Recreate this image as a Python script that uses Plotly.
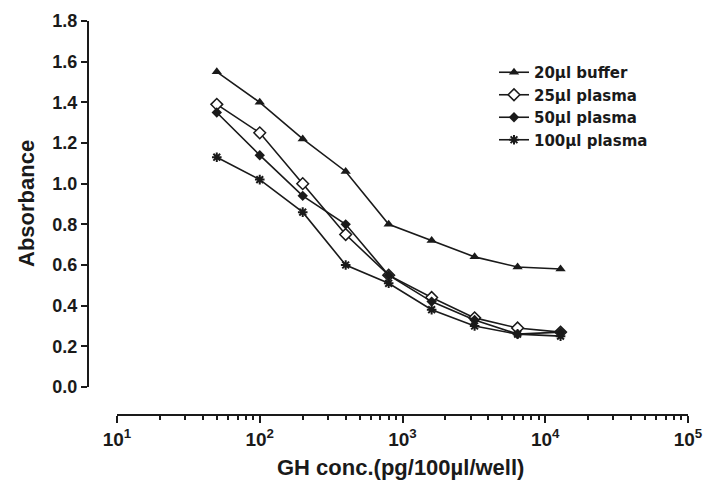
import plotly.graph_objects as go

conc = [50, 100, 200, 400, 800, 1600, 3200, 6400, 12800]
buffer_20 = [1.55, 1.40, 1.22, 1.06, 0.80, 0.72, 0.64, 0.59, 0.58]
plasma_25 = [1.39, 1.25, 1.00, 0.75, 0.55, 0.44, 0.34, 0.29, 0.27]
plasma_50 = [1.35, 1.14, 0.94, 0.80, 0.55, 0.42, 0.33, 0.26, 0.27]
plasma_100 = [1.13, 1.02, 0.86, 0.60, 0.51, 0.38, 0.30, 0.26, 0.25]

x_tickvals = [10, 100, 1000, 10000, 100000]
x_ticktext = ["10<sup>1</sup>", "10<sup>2</sup>", "10<sup>3</sup>", "10<sup>4</sup>", "10<sup>5</sup>"]

W, H = 704, 482
INK = "#1a1a1a"
FONT = "Liberation Sans"

series = [
    ("20µl buffer", buffer_20, dict(symbol="triangle-up", size=9, color=INK)),
    ("25µl plasma", plasma_25, dict(symbol="diamond", size=9, color="white", line=dict(color=INK, width=1.5))),
    ("50µl plasma", plasma_50, dict(symbol="diamond", size=8, color=INK)),
    ("100µl plasma", plasma_100, dict(symbol="asterisk-open", size=8, color=INK, line=dict(color=INK, width=2))),
]

fig = go.Figure()
for name, vals, mk in series:
    fig.add_trace(go.Scatter(x=conc, y=vals, name=name, mode="lines+markers",
                             line=dict(color=INK, width=1.6), marker=mk))

fig.update_layout(
    width=W, height=H,
    margin=dict(l=0, r=0, t=0, b=0, autoexpand=False),
    paper_bgcolor="white", plot_bgcolor="white",
    font=dict(family=FONT, color=INK, size=17, weight="bold"),
    showlegend=True,
    legend=dict(x=494 / W, y=1 - 56 / H, xanchor="left", yanchor="top",
                bgcolor="rgba(0,0,0,0)",
                font=dict(size=15, family="DejaVu Sans", weight="bold", color=INK),
                tracegroupgap=0, itemwidth=30),
    xaxis=dict(type="log", range=[1, 5], domain=[117 / W, 688 / W],
               anchor="free", position=1 - 415 / H, automargin=False,
               showline=True, linecolor=INK, linewidth=2,
               showgrid=False, zeroline=False,
               tickvals=x_tickvals, ticktext=x_ticktext,
               ticks="outside", ticklen=7, tickwidth=2, tickcolor=INK,
               minor=dict(ticks="outside", ticklen=4, tickwidth=2, tickcolor=INK,
                          dtick="D1", showgrid=False),
               tickfont=dict(size=19, family=FONT, weight="bold")),
    yaxis=dict(range=[0, 1.8], domain=[1 - 387 / H, 1 - 21 / H],
               anchor="free", position=88 / W, automargin=False,
               showline=True, linecolor=INK, linewidth=2,
               showgrid=False, zeroline=False,
               dtick=0.2, tick0=0, tickformat=".1f",
               ticks="outside", ticklen=6, tickwidth=2, tickcolor=INK,
               tickfont=dict(size=18, family=FONT, weight="bold")),
    annotations=[
        dict(text="GH conc.(pg/100µl/well)", x=400 / W, y=1 - 467 / H,
             xref="paper", yref="paper", showarrow=False,
             xanchor="center", yanchor="middle",
             font=dict(size=22, family=FONT, weight="bold", color=INK)),
        dict(text="Absorbance", x=26 / W, y=1 - 204 / H,
             xref="paper", yref="paper", showarrow=False, textangle=-90,
             xanchor="center", yanchor="middle",
             font=dict(size=22, family=FONT, weight="bold", color=INK)),
    ],
)

fig.write_html(
    "out.html",
    config={"displayModeBar": False},
    post_script="document.body.style.margin='0';document.body.style.overflow='hidden';",
)
